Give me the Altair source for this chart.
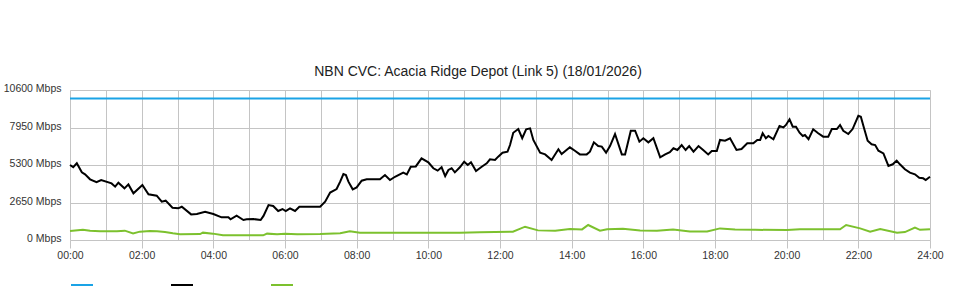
import altair as alt
import pandas as pd

# ---- data ----
SERIES = ["Capacity", "Download", "Upload"]
COLORS = ["#1aa3e6", "#000000", "#7cc12e"]

cap_t = [0, 24]
cap_v = [10000, 10000]

dl_t = [0.00, 0.09, 0.19, 0.33, 0.42, 0.56, 0.74, 0.87, 1.16, 1.26, 1.35, 1.52, 1.63, 1.77,
        2.02, 2.19, 2.42, 2.56, 2.67, 2.86, 3.02, 3.12, 3.38, 3.54, 3.77, 4.00, 4.23, 4.42,
        4.48, 4.65, 4.84, 4.93, 5.12, 5.32, 5.40, 5.54, 5.67, 5.81, 5.93, 6.02, 6.14, 6.28,
        6.40, 6.60, 6.84, 6.98, 7.12, 7.26, 7.44, 7.54, 7.63, 7.70, 7.77, 7.89, 8.00, 8.14,
        8.28, 8.47, 8.65, 8.79, 8.93, 9.07, 9.30, 9.40, 9.51, 9.65, 9.81, 10.00, 10.14, 10.26,
        10.37, 10.47, 10.56, 10.65, 10.74, 10.88, 11.00, 11.10, 11.19, 11.33, 11.49, 11.63,
        11.72, 11.86, 11.95, 12.07, 12.21, 12.28, 12.37, 12.51, 12.62, 12.73, 12.84, 12.93,
        13.12, 13.26, 13.44, 13.63, 13.72, 13.95, 14.09, 14.23, 14.42, 14.51, 14.62, 14.74,
        14.84, 14.96, 15.07, 15.21, 15.40, 15.49, 15.65, 15.77, 15.89, 16.00, 16.14, 16.28,
        16.47, 16.61, 16.74, 16.84, 16.95, 17.07, 17.18, 17.28, 17.40, 17.54, 17.67, 17.81,
        17.91, 18.05, 18.14, 18.28, 18.42, 18.60, 18.74, 18.90, 19.07, 19.18, 19.26, 19.33,
        19.42, 19.49, 19.63, 19.80, 19.91, 19.98, 20.08, 20.17, 20.26, 20.36, 20.45, 20.51,
        20.61, 20.74, 20.88, 21.02, 21.16, 21.26, 21.40, 21.49, 21.58, 21.72, 21.84, 22.00,
        22.07, 22.16, 22.26, 22.37, 22.47, 22.56, 22.70, 22.84, 22.96, 23.07, 23.16, 23.30,
        23.44, 23.58, 23.70, 23.81, 23.88, 24.00]
dl_v = [5300, 5150, 5420, 4780, 4640, 4290, 4080, 4240, 4000, 3770, 4050, 3650, 3930, 3300,
        3890, 3230, 3130, 2710, 2780, 2280, 2240, 2350, 1810, 1840, 2000, 1840, 1600, 1600,
        1460, 1720, 1410, 1460, 1480, 1410, 1700, 2470, 2400, 2050, 2190, 2050, 2240, 2050,
        2350, 2350, 2350, 2350, 2710, 3350, 3600, 4120, 4660, 4590, 4120, 3580, 3720, 4190,
        4290, 4290, 4290, 4590, 4240, 4470, 4760, 4640, 5180, 5200, 5770, 5490, 5070, 4900,
        5140, 4520, 4950, 5070, 4780, 5140, 5530, 5300, 5490, 4880, 5180, 5420,
        5700, 5650, 5890, 6170, 6240, 6710, 7580, 7840, 7190, 7820, 7890, 7070,
        6170, 6050, 5650, 6410, 6080, 6550, 6310, 6050, 6050, 6240, 6900, 6640,
        6600, 6170, 6640, 7490, 6050, 6050, 7720, 7720, 6950, 7190, 6900, 7190,
        5840, 6050, 6200, 6480, 6360, 6710, 6360, 6640, 6240, 6640, 6360, 6050,
        6290, 6290, 7070, 7020, 7190, 6360, 6430, 6830, 6830, 7070, 7070, 7540,
        7190, 7350, 7120, 8060, 7960, 8130, 8530, 8010, 8010, 7580, 7350, 7420,
        7120, 7820, 7540, 7300, 7300, 7840, 7840, 8130, 7720, 7490, 7840, 8780,
        8710, 7890, 7020, 6760, 6710, 6310, 6120, 5230, 5350, 5610, 5350, 5000,
        4760, 4640, 4400, 4360, 4240, 4470]

ul_t = [0.00, 0.36, 0.56, 0.84, 1.31, 1.53, 1.76, 1.95, 2.23, 2.43, 2.65, 2.87, 3.07, 3.63,
        3.71, 3.99, 4.27, 5.39, 5.50, 5.78, 6.00, 6.34, 6.98, 7.54, 7.81, 8.09, 8.65, 10.88,
        11.44, 12.36, 12.70, 13.06, 13.54, 13.95, 14.29, 14.46, 14.79, 14.99, 15.43, 15.91,
        16.38, 16.83, 17.30, 17.78, 18.14, 18.56, 19.12, 20.01, 20.37, 21.49, 21.66, 22.05,
        22.33, 22.61, 23.08, 23.30, 23.58, 23.72, 24.00]
ul_v = [640, 720, 650, 620, 610, 660, 470, 590, 640, 620, 560, 470, 400, 420,
        520, 450, 330, 330, 450, 400, 440, 400, 420, 470, 620, 520, 520, 520,
        540, 590, 940, 680, 660, 770, 750, 1060, 660, 760, 800, 680,
        660, 750, 600, 600, 820, 750, 720, 700, 760, 760, 1060, 820,
        590, 780, 520, 560, 870, 720, 760]

y_ticks = [0, 2650, 5300, 7950, 10600]
x_ticks = list(range(0, 25))
title_text = "NBN CVC: Acacia Ridge Depot (Link 5) (18/01/2026)"

rows = []
for name, ts, vs in [(SERIES[0], cap_t, cap_v), (SERIES[1], dl_t, dl_v), (SERIES[2], ul_t, ul_v)]:
    for t, v in zip(ts, vs):
        rows.append({"series": name, "t": t, "v": v})
df = pd.DataFrame(rows)

FONT = "Liberation Sans"
GRID = "#c4c4c4"

chart = alt.Chart(df).mark_line(strokeWidth=2, interpolate="linear").encode(
    x=alt.X("t:Q",
            scale=alt.Scale(domain=[0, 24], nice=False, zero=False),
            axis=alt.Axis(values=x_ticks, title=None, domain=False,
                          grid=True, gridColor=GRID, gridWidth=1,
                          tickSize=8,
                          tickColor={"condition": {"test": "datum.value % 2 == 0", "value": GRID},
                                     "value": "transparent"},
                          labelExpr="datum.value % 2 == 0 ? (datum.value < 10 ? '0' : '') + datum.value + ':00' : ''",
                          labelFont=FONT, labelFontSize=10.5, labelColor="#333",
                          labelFlush=False, labelOverlap=False, labelBound=False,
                          labelPadding=2)),
    y=alt.Y("v:Q",
            scale=alt.Scale(domain=[0, 10600], nice=False),
            axis=alt.Axis(values=y_ticks, title=None, domain=False, ticks=False,
                          grid=True, gridColor=GRID, gridWidth=1,
                          labelExpr="datum.value + ' Mbps'",
                          labelFont=FONT, labelFontSize=10.5, labelColor="#333",
                          labelFlush=False, labelOffset=-1.5,
                          labelPadding=9)),
    color=alt.Color("series:N",
                    scale=alt.Scale(domain=SERIES, range=COLORS),
                    sort=SERIES,
                    legend=alt.Legend(title=None, orient="none", legendX=0, legendY=183,
                                      direction="horizontal", symbolType="stroke",
                                      symbolSize=484, symbolStrokeWidth=2,
                                      labelExpr="''", labelFontSize=1, labelOffset=0,
                                      columnPadding=70, padding=0)),
    order=alt.Order("series:N"),
).properties(
    width=860,
    height=150,
    title=alt.TitleParams(title_text, font=FONT, fontSize=14, fontWeight="normal",
                          color="#222", anchor="middle", dx=-22, offset=5),
    autosize=alt.AutoSizeParams(type="none"),
    padding={"left": 70, "top": 90, "right": 30, "bottom": 60},
).configure_view(stroke=None).configure(background="white")

chart.save("out.html", embed_options={"renderer": "svg", "actions": False})
